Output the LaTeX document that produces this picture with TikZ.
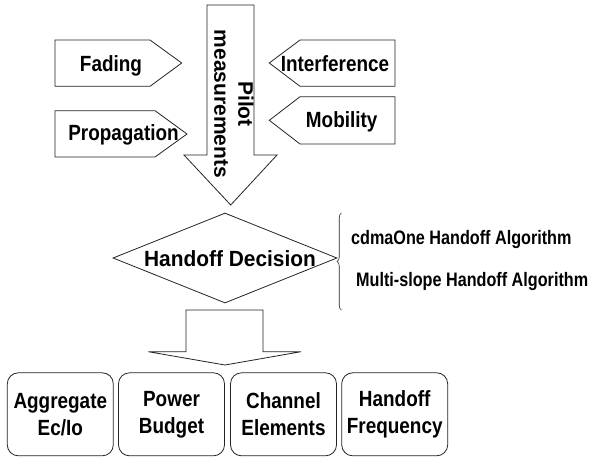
\documentclass[tikz,border=0pt]{standalone}
\usepackage{fontspec}
\setmainfont{Liberation Sans}[FakeStretch=0.86]
\newfontfamily\plainsans{Liberation Sans}
\newfontfamily\decfont{Liberation Sans}[FakeStretch=0.95]
\newfontfamily\algfont{Liberation Sans}[FakeStretch=0.83]
\usetikzlibrary{shapes.geometric,decorations.pathreplacing}
\definecolor{lnblack}{RGB}{35,35,35}
\tikzset{
  outl/.style={draw=lnblack, line width=0.8pt, line join=miter},
  lbl/.style={font=\fontsize{22}{27}\selectfont\bfseries, align=center, inner sep=0pt},
  algtxt/.style={font=\fontsize{19.5}{23}\selectfont\bfseries\algfont, anchor=west, inner sep=0pt},
  factor/.style={outl, rounded corners=11pt, minimum width=106pt, minimum height=83pt, lbl}
}

\begin{document}
\begin{tikzpicture}[x=1pt,y=-1pt]
  \useasboundingbox (0,0) rectangle (594,459);
  % Influences (left)
  \draw[outl] (55,40) -- (150,40) -- (181.7,63) -- (150,86.3) -- (55,86.3) -- cycle;
  \node[lbl] (fad) at (111,66) {Fading};
  \draw[outl] (55,110.7) -- (155,110.7) -- (187,134) -- (155,157) -- (55,157) -- cycle;
  \node[lbl] (prop) at (123.5,135) {Propagation};
  % Influences (right)
  \draw[outl] (269.3,63) -- (300,40) -- (395,40) -- (395,86.3) -- (300,86.3) -- cycle;
  \node[lbl] (intf) at (335,64) {Interference};
  \draw[outl] (269.3,120.3) -- (300,96.7) -- (395,96.7) -- (395,144) -- (300,144) -- cycle;
  \node[lbl] (mob) at (341.7,121.5) {Mobility};
  % Pilot measurements arrow
  \draw[outl] (207,5) -- (254,5) -- (254,155) -- (277,155) -- (230.7,205) -- (184,155) -- (207,155) -- cycle;
  \node[lbl, font=\fontsize{21}{24}\selectfont\bfseries\plainsans, rotate=-90] (pilot) at (234,104) {Pilot\\measurements};
  % Decision
  \node[outl, shape=diamond, aspect=2.49, minimum width=224pt, minimum height=90pt, inner sep=0pt, lbl, font=\fontsize{22}{27}\selectfont\bfseries\decfont] (dec) at (225,258) {};
  \node[lbl, font=\fontsize{22}{27}\selectfont\bfseries\decfont] (dectxt) at (230,259) {Handoff Decision};
  \draw[lnblack, line width=0.6pt, decorate, decoration={brace, amplitude=4.5pt}] (341.5,310) -- (341.5,213);
  \node[algtxt] (cdma) at (351,239) {cdmaOne Handoff Algorithm};
  \node[algtxt] (mslope) at (356,281.5) {Multi-slope Handoff Algorithm};
  % Output arrow
  \draw[outl] (186,310) -- (263,310) -- (263,351.7) -- (301,351.7) -- (225,365) -- (148.3,351.7) -- (186,351.7) -- cycle;
  % Metrics
  \node[factor] (agg) at (60.3,414.3) {Aggregate\\Ec/Io};
  \node[factor] (pwr) at (171.5,414.3) {Power\\Budget};
  \node[factor] (chn) at (283.5,414.3) {Channel\\Elements};
  \node[factor] (hof) at (394.7,414.3) {Handoff\\Frequency};
\end{tikzpicture}
\end{document}
